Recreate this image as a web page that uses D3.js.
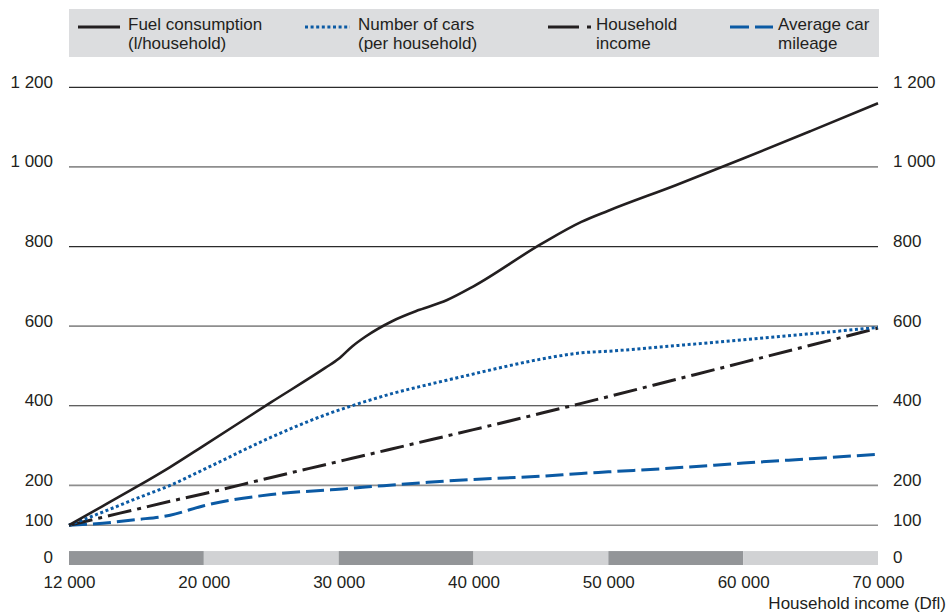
<!DOCTYPE html>
<html>
<head>
<meta charset="utf-8">
<script src="https://cdn.jsdelivr.net/npm/d3@7"></script>
<style>
  html, body { margin: 0; padding: 0; background: #fff; }
  svg text { font-family: 'Liberation Sans', Arial, sans-serif; fill: #231f20; }
</style>
</head>
<body>
<svg id="chart" width="951" height="616"></svg>
<script>
// ---- Data ----
const income = [12000,14000,16000,18000,20000,25000,29000,30000,31000,32000,34000,36000,38000,40000,45000,48000,50000,55000,60000,65000,70000];
const fuelConsumption = [100,148,196,246,300,409,495,518,549,574,613,641,665,700,806,862,890,954,1021,1090,1160];
const numberOfCars   = [100,133,167,200,240,321,377,389,400,411,431,448,464,480,517,533,537,551,566,581,597];
const householdIncome = [100,120,140,160,179,220,252,260,268,276,292,308,324,340,381,406,423,466,509,552,595];
const carMileage     = [100,105,114,125,149,177,188,190,193,196,201,206,211,215,223,230,234,244,256,267,278];

const xTicks = [12000,20000,30000,40000,50000,60000,70000];
const xTickLabels = ["12 000","20 000","30 000","40 000","50 000","60 000","70 000"];
const yTicks = [0,100,200,400,600,800,1000,1200];
const yTickLabels = ["0","100","200","400","600","800","1 000","1 200"];
const darkGrid = [400,800,1200];
const xAxisTitle = "Household income (Dfl)";

const seriesNames = [
  ["Fuel consumption","(l/household)"],
  ["Number of cars","(per household)"],
  ["Household","income"],
  ["Average car","mileage"]
];

// ---- Layout ----
const FONT = "'Liberation Sans', Arial, sans-serif";
const FS = 17;
const svg = d3.select("#chart");
const left = 69, right = 878;
const BLACK = "#231f20", BLUE = "#0b5aa4";

const x = d3.scaleLinear()
  .domain(xTicks)
  .range(xTicks.map((d,i) => left + i*(right-left)/(xTicks.length-1)));
const y = d3.scaleLinear().domain([0,1200]).range([565,87.3]);

// bands along the bottom
const bandG = svg.append("g");
for (let i = 0; i < xTicks.length-1; i++) {
  bandG.append("rect")
    .attr("x", x(xTicks[i])).attr("width", x(xTicks[i+1]) - x(xTicks[i]))
    .attr("y", y(35)).attr("height", y(0) - y(35))
    .attr("fill", i % 2 === 0 ? "#939598" : "#d1d2d4");
}

// gridlines
const gridG = svg.append("g");
yTicks.filter(v => v > 0).forEach(v => {
  const dark = darkGrid.includes(v);
  gridG.append("line")
    .attr("x1", left).attr("x2", right)
    .attr("y1", y(v)).attr("y2", y(v))
    .attr("stroke", dark ? "#2b2b2b" : "#8e8e8e")
    .attr("stroke-width", dark ? 1.2 : 1.6);
});

// y labels both sides
const yLab = svg.append("g").attr("font-size", FS);
yTicks.forEach((v, i) => {
  const yy = v === 0 ? 563 : y(v) + 0.5;
  yLab.append("text").attr("x", 53).attr("y", yy).attr("text-anchor","end").text(yTickLabels[i]);
  yLab.append("text").attr("x", 893).attr("y", yy).attr("text-anchor","start").text(yTickLabels[i]);
});

// x axis labels via d3 axis
const xAxis = d3.axisBottom(x).tickValues(xTicks)
  .tickFormat((d,i) => xTickLabels[i]).tickSize(0).tickPadding(0);
const xg = svg.append("g").attr("transform","translate(0,575)").call(xAxis);
xg.select(".domain").remove();
xg.selectAll("text").attr("font-size", FS).attr("fill", BLACK)
  .attr("dy", null).attr("y", 13)
  .style("font-family", FONT);

svg.append("text").attr("x", 946).attr("y", 609).attr("text-anchor","end")
  .attr("font-size", FS).text(xAxisTitle);

// lines
const styles = [
  {data: fuelConsumption, color: BLACK, width: 2.6, dash: null},
  {data: numberOfCars, color: BLUE, width: 3, dash: "3,2.6"},
  {data: householdIncome, color: BLACK, width: 3, dash: "24,6,4,6"},
  {data: carMileage, color: BLUE, width: 3, dash: "18,6"}
];
const line = d3.line().x(d => x(d[0])).y(d => y(d[1])).curve(d3.curveMonotoneX);
const linesG = svg.append("g");
[styles[3], styles[2], styles[1], styles[0]].forEach(s => {
  linesG.append("path")
    .datum(income.map((v,i) => [v, s.data[i]]))
    .attr("d", line)
    .attr("fill","none")
    .attr("stroke", s.color)
    .attr("stroke-width", s.width)
    .attr("stroke-dasharray", s.dash);
});

// legend
const lg = svg.append("g");
lg.append("rect").attr("x", 69).attr("y", 9).attr("width", 810).attr("height", 48).attr("fill", "#dcdddf");
const legendPos = [
  {x1: 78, x2: 120, tx: 128},
  {x1: 305, x2: 350, tx: 358},
  {x1: 548, x2: 591, tx: 596},
  {x1: 730, x2: 773, tx: 778}
];
const legendDash = [null, "3,2.6", "31,8,4,100", "19,6"];
seriesNames.forEach((nm, i) => {
  const p = legendPos[i], s = styles[i];
  lg.append("line").attr("x1", p.x1).attr("x2", p.x2).attr("y1", 27).attr("y2", 27)
    .attr("stroke", s.color).attr("stroke-width", 3)
    .attr("stroke-dasharray", legendDash[i]);
  lg.append("text").attr("x", p.tx).attr("y", 30).attr("font-size", FS).text(nm[0]);
  lg.append("text").attr("x", p.tx).attr("y", 49).attr("font-size", FS).text(nm[1]);
});
</script>
</body>
</html>
